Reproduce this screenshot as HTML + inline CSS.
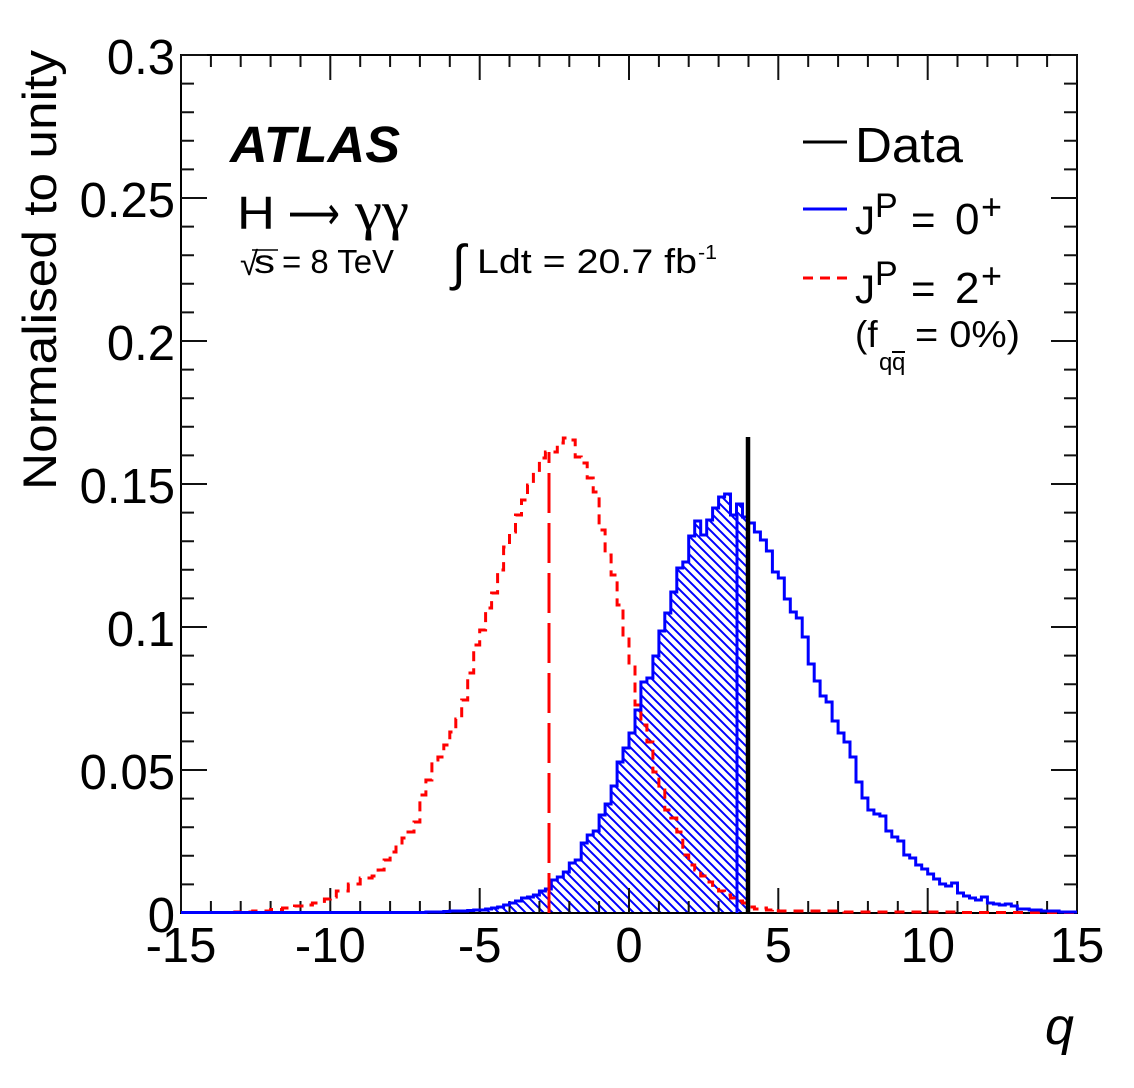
<!DOCTYPE html>
<html><head><meta charset="utf-8">
<style>
html,body{margin:0;padding:0;background:#fff;}
svg{display:block;}
text{font-family:"Liberation Sans",Arial,"DejaVu Sans",sans-serif;fill:#000;}
</style></head>
<body>
<svg xmlns="http://www.w3.org/2000/svg" width="1134" height="1088" viewBox="0 0 1134 1088">
<defs>
<pattern id="h" patternUnits="userSpaceOnUse" width="9" height="9">
<path d="M0,0L9,9M-1,8L1,10M8,-1L10,1" stroke="#0000ff" stroke-width="2"/>
</pattern>
<clipPath id="c"><path d="M181,912.5 H425.9 V912 H443.8 V911.5 H449.8 V911 H467.7 V910.5 H473.7 V910 H485.6 V909 H491.6 V908 H497.6 V907 H503.6 V905 H509.5 V903 H515.5 V901 H521.5 V898 H527.5 V897 H533.4 V895 H539.4 V891 H545.4 V889 H551.3 V880 H557.3 V877 H563.3 V872 H569.3 V863 H575.2 V860 H581.2 V843 H587.2 V835 H593.2 V831 H599.1 V815 H605.1 V804 H611.1 V786 H617.1 V762 H623 V748 H629 V733 H635 V710 H640.9 V682 H646.9 V678 H652.9 V656 H658.9 V631 H664.8 V613 H670.8 V592 H676.8 V568 H682.8 V562 H688.7 V536 H694.7 V521 H700.7 V535 H706.7 V520 H712.6 V508 H718.6 V497 H724.6 V494 H730.5 V515 H736.5 V504 H742.5 V517 H748.5 V913 H181 Z"/></clipPath>
</defs>
<rect width="1134" height="1088" fill="#fff"/>

<!-- hatch -->
<rect x="181" y="400" width="568" height="513" fill="url(#h)" clip-path="url(#c)"/>

<!-- frame -->
<rect x="181" y="55" width="896" height="858" fill="none" stroke="#000" stroke-width="2"/>
<path stroke="#111" stroke-width="2" fill="none" d="
M181,913V888 M210.9,913V901 M240.7,913V901 M270.6,913V901 M300.5,913V901 M330.3,913V888 M360.2,913V901 M390.1,913V901 M419.9,913V901 M449.8,913V901 M479.7,913V888 M509.5,913V901 M539.4,913V901 M569.3,913V901 M599.1,913V901 M629,913V888 M658.9,913V901 M688.7,913V901 M718.6,913V901 M748.5,913V901 M778.3,913V888 M808.2,913V901 M838.1,913V901 M867.9,913V901 M897.8,913V901 M927.7,913V888 M957.5,913V901 M987.4,913V901 M1017.3,913V901 M1047.1,913V901 M1077,913V888
M181,55V80 M210.9,55V67 M240.7,55V67 M270.6,55V67 M300.5,55V67 M330.3,55V80 M360.2,55V67 M390.1,55V67 M419.9,55V67 M449.8,55V67 M479.7,55V80 M509.5,55V67 M539.4,55V67 M569.3,55V67 M599.1,55V67 M629,55V80 M658.9,55V67 M688.7,55V67 M718.6,55V67 M748.5,55V67 M778.3,55V80 M808.2,55V67 M838.1,55V67 M867.9,55V67 M897.8,55V67 M927.7,55V80 M957.5,55V67 M987.4,55V67 M1017.3,55V67 M1047.1,55V67 M1077,55V80
M181,884.4H194 M181,855.8H194 M181,827.2H194 M181,798.6H194 M181,770H207 M181,741.4H194 M181,712.8H194 M181,684.2H194 M181,655.6H194 M181,627H207 M181,598.4H194 M181,569.8H194 M181,541.2H194 M181,512.6H194 M181,484H207 M181,455.4H194 M181,426.8H194 M181,398.2H194 M181,369.6H194 M181,341H207 M181,312.4H194 M181,283.8H194 M181,255.2H194 M181,226.6H194 M181,198H207 M181,169.4H194 M181,140.8H194 M181,112.2H194 M181,83.6H194 M181,55H207
M1077,884.4H1064 M1077,855.8H1064 M1077,827.2H1064 M1077,798.6H1064 M1077,770H1051 M1077,741.4H1064 M1077,712.8H1064 M1077,684.2H1064 M1077,655.6H1064 M1077,627H1051 M1077,598.4H1064 M1077,569.8H1064 M1077,541.2H1064 M1077,512.6H1064 M1077,484H1051 M1077,455.4H1064 M1077,426.8H1064 M1077,398.2H1064 M1077,369.6H1064 M1077,341H1051 M1077,312.4H1064 M1077,283.8H1064 M1077,255.2H1064 M1077,226.6H1064 M1077,198H1051 M1077,169.4H1064 M1077,140.8H1064 M1077,112.2H1064 M1077,83.6H1064 M1077,55H1051"/>

<!-- red 2+ histogram -->
<path fill="none" stroke="#ff0000" stroke-width="3" stroke-dasharray="10 7" d="M181,912.5 H234.8 V912 H252.7 V911 H270.6 V909.5 H282.5 V908 H294.5 V906 H306.4 V905 H312.4 V903 H324.4 V899 H330.3 V897 H336.3 V891 H348.3 V884 H360.2 V878 H372.1 V876 H378.1 V870 H384.1 V860 H390.1 V852 H396 V845 H402 V838 H408 V832 H414 V822 H419.9 V795 H425.9 V780 H431.9 V760 H437.9 V757 H443.8 V745 H449.8 V732 H455.8 V719 H461.7 V700 H467.7 V673 H473.7 V645 H479.7 V630 H485.6 V608 H491.6 V593 H497.6 V570 H503.6 V547 H509.5 V532 H515.5 V515 H521.5 V500 H527.5 V485 H533.4 V472 H539.4 V458 H545.4 V452 H557.3 V443 H563.3 V438 H569.3 V440 H575.2 V457 H581.2 V463 H587.2 V478 H593.2 V492 H599.1 V530 H605.1 V555 H611.1 V575 H617.1 V605 H623 V635 H629 V665 H635 V705 H640.9 V725 H646.9 V742 H652.9 V772 H658.9 V790 H664.8 V810 H670.8 V818 H676.8 V832 H682.8 V855 H688.7 V865 H694.7 V870 H700.7 V876 H706.7 V882 H712.6 V887 H718.6 V891 H724.6 V895 H730.5 V898 H736.5 V901 H742.5 V903 H748.5 V907 H754.4 V909 H760.4 V908 H766.4 V910 H772.4 V909 H778.3 V911 H844 V912 H957.5 V912.5 H1077"/>

<!-- blue 0+ histogram -->
<path fill="none" stroke="#0000ff" stroke-width="3" d="M181,912.5 H425.9 V912 H443.8 V911.5 H449.8 V911 H467.7 V910.5 H473.7 V910 H485.6 V909 H491.6 V908 H497.6 V907 H503.6 V905 H509.5 V903 H515.5 V901 H521.5 V898 H527.5 V897 H533.4 V895 H539.4 V891 H545.4 V889 H551.3 V880 H557.3 V877 H563.3 V872 H569.3 V863 H575.2 V860 H581.2 V843 H587.2 V835 H593.2 V831 H599.1 V815 H605.1 V804 H611.1 V786 H617.1 V762 H623 V748 H629 V733 H635 V710 H640.9 V682 H646.9 V678 H652.9 V656 H658.9 V631 H664.8 V613 H670.8 V592 H676.8 V568 H682.8 V562 H688.7 V536 H694.7 V521 H700.7 V535 H706.7 V520 H712.6 V508 H718.6 V497 H724.6 V494 H730.5 V515 H736.5 V504 H742.5 V517 H748.5 V523 H754.4 V532 H760.4 V540 H766.4 V551 H772.4 V572 H778.3 V578 H784.3 V599 H790.3 V612 H796.3 V618 H802.2 V637 H808.2 V664 H814.2 V681 H820.1 V696 H826.1 V702 H832.1 V721 H838.1 V733 H844 V742 H850 V757 H856 V782 H862 V798 H867.9 V810 H873.9 V814 H879.9 V816 H885.9 V831 H891.8 V837 H897.8 V841 H903.8 V855 H909.7 V858 H915.7 V865 H921.7 V869 H927.7 V874 H933.6 V879 H939.6 V884 H945.6 V886 H951.6 V883 H957.5 V893 H963.5 V896 H969.5 V898 H975.5 V900 H981.4 V897 H987.4 V903 H993.4 V904 H999.3 V905 H1005.3 V904 H1011.3 V906 H1017.3 V909 H1029.2 V910 H1041.2 V911 H1059.1 V912 H1077"/>

<!-- median lines and data -->
<line x1="549" y1="452" x2="549" y2="913" stroke="#ff0000" stroke-width="3" stroke-dasharray="40 10" stroke-dashoffset="29"/>
<line x1="737" y1="515" x2="737" y2="913" stroke="#0000ff" stroke-width="3"/>
<line x1="748" y1="437" x2="748" y2="913" stroke="#000" stroke-width="4.5"/>

<!-- tick labels -->
<g font-size="49" text-anchor="end">
<text x="175" y="932">0</text>
<text x="175" y="789">0.05</text>
<text x="175" y="646">0.1</text>
<text x="175" y="503">0.15</text>
<text x="175" y="360">0.2</text>
<text x="175" y="217">0.25</text>
<text x="175" y="74">0.3</text>
</g>
<g font-size="49" text-anchor="middle">
<text x="181" y="962">-15</text>
<text x="330.3" y="962">-10</text>
<text x="479.7" y="962">-5</text>
<text x="629" y="962">0</text>
<text x="778.3" y="962">5</text>
<text x="927.7" y="962">10</text>
<text x="1077" y="962">15</text>
</g>

<!-- axis titles -->
<text transform="translate(56,50) rotate(-90)" text-anchor="end" font-size="47" textLength="440" lengthAdjust="spacingAndGlyphs">Normalised to unity</text>
<text x="1045" y="1044" font-size="52" font-style="italic">q</text>

<!-- ATLAS labels -->
<text x="230" y="162" font-size="51" font-weight="bold" font-style="italic" textLength="170" lengthAdjust="spacingAndGlyphs">ATLAS</text>
<text x="237" y="229" font-size="46" textLength="38" lengthAdjust="spacingAndGlyphs">H</text>
<text x="288" y="229" font-size="46" style="font-family:'DejaVu Sans',sans-serif" textLength="52" lengthAdjust="spacingAndGlyphs">⟶</text>
<text x="355" y="229" font-size="54" style="font-family:'Liberation Serif','DejaVu Serif',serif" textLength="54" lengthAdjust="spacingAndGlyphs">γγ</text>

<text x="240" y="275" font-size="33">√</text>
<line x1="252" y1="250" x2="278" y2="250" stroke="#000" stroke-width="1.5"/>
<text x="254" y="273" font-size="33" textLength="21" lengthAdjust="spacingAndGlyphs">s</text>
<text x="282" y="273" font-size="33" textLength="112" lengthAdjust="spacingAndGlyphs">= 8 TeV</text>
<text x="452" y="280" font-size="50">∫</text>
<text x="477" y="273" font-size="34" textLength="220" lengthAdjust="spacingAndGlyphs">Ldt = 20.7 fb</text>
<text x="698" y="259" font-size="20" textLength="19" lengthAdjust="spacingAndGlyphs">-1</text>

<!-- legend -->
<line x1="803" y1="142" x2="847" y2="142" stroke="#000" stroke-width="3"/>
<text x="855" y="162" font-size="49" textLength="108" lengthAdjust="spacingAndGlyphs">Data</text>

<line x1="803" y1="209" x2="847" y2="209" stroke="#0000ff" stroke-width="3"/>
<text x="855" y="234" font-size="40">J</text>
<text x="875" y="217" font-size="34">P</text>
<text x="911" y="234" font-size="42">=</text>
<text x="955" y="234" font-size="44">0</text>
<text x="981" y="219" font-size="36">+</text>

<line x1="803" y1="278" x2="847" y2="278" stroke="#ff0000" stroke-width="3" stroke-dasharray="10 7"/>
<text x="855" y="303" font-size="40">J</text>
<text x="875" y="285" font-size="34">P</text>
<text x="911" y="303" font-size="42">=</text>
<text x="955" y="303" font-size="44">2</text>
<text x="981" y="288" font-size="36">+</text>

<text x="855" y="347" font-size="37">(f</text>
<text x="879" y="370" font-size="24">q</text>
<text x="892" y="370" font-size="24">q</text>
<line x1="892" y1="352" x2="905" y2="352" stroke="#000" stroke-width="2"/>
<text x="915" y="347" font-size="37" textLength="105" lengthAdjust="spacingAndGlyphs">= 0%)</text>
</svg>
</body></html>
